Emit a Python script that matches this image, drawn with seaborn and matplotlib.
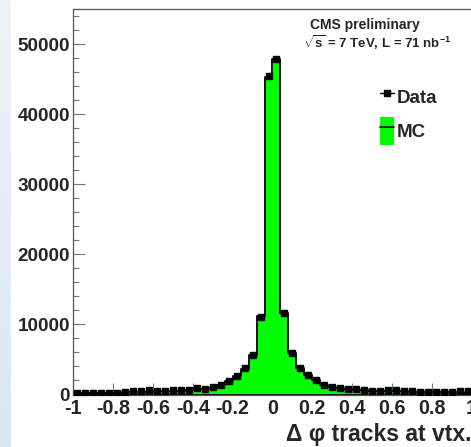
import numpy as np
import pandas as pd
import matplotlib
matplotlib.use("Agg")
import matplotlib.pyplot as plt
from matplotlib.ticker import MultipleLocator, FuncFormatter
from matplotlib.lines import Line2D
from matplotlib.patches import Patch
from matplotlib.colors import LinearSegmentedColormap
import seaborn as sns

# ---- data (50 bins of width 0.04 from -1 to 1) ----
bin_edges = np.linspace(-1.0, 1.0, 51)
bin_centers = 0.5 * (bin_edges[:-1] + bin_edges[1:])

data_counts = [200, 250, 250, 180, 180, 180, 400, 450, 450, 600,
               550, 500, 600, 600, 650, 880, 830, 1020, 1360, 1950,
               2620, 3740, 5640, 11100, 45400,
               47800, 11650, 5930, 3830, 2740, 2100, 1400, 1120, 930, 740,
               740, 650, 560, 560, 650, 600, 510, 510, 400, 310,
               310, 310, 400, 450, 450]

mc_counts = [180, 200, 210, 220, 240, 260, 290, 320, 350, 390,
             430, 470, 520, 570, 630, 720, 820, 980, 1300, 1900,
             2600, 3700, 5600, 11250, 45300,
             47900, 11600, 5900, 3850, 2750, 2080, 1420, 1100, 900, 760,
             680, 620, 570, 530, 500, 470, 440, 410, 380, 350,
             330, 310, 300, 290, 280]

y_ticks = [0, 10000, 20000, 30000, 40000, 50000]
x_ticks = [-1, -0.8, -0.6, -0.4, -0.2, 0, 0.2, 0.4, 0.6, 0.8, 1]

mc_df = pd.DataFrame({'dphi': bin_centers, 'count': mc_counts})

sns.set_style("ticks")
plt.rcParams['font.family'] = ['Liberation Sans', 'DejaVu Sans']
plt.rcParams['font.weight'] = 'bold'
plt.rcParams['axes.unicode_minus'] = False
plt.rcParams['mathtext.fontset'] = 'custom'
plt.rcParams['mathtext.rm'] = 'Liberation Sans'
plt.rcParams['mathtext.bf'] = 'Liberation Sans:bold'

W, H = 471, 447
fig = plt.figure(figsize=(W / 100, H / 100), dpi=100)
fig.patch.set_facecolor('white')

# left slide-background strip
bg = fig.add_axes([0, 0, 11 / W, 1])
grad = np.linspace(0, 1, 256).reshape(-1, 1)
cmap = LinearSegmentedColormap.from_list('bg', ['#eef3fa', '#dbe7f4'])
bg.imshow(grad, aspect='auto', cmap=cmap, origin='upper')
bg.set_axis_off()

ax = fig.add_axes([73.3 / W, 52.5 / H, 398.4 / W, 385.5 / H])

sns.histplot(data=mc_df, x='dphi', weights='count', binwidth=0.04,
             binrange=(-1, 1), element='step', fill=True, color='#00ff00',
             alpha=1, edgecolor='black', linewidth=1.3, ax=ax)

ax.errorbar(bin_centers, data_counts, yerr=np.sqrt(data_counts), fmt='s',
            color='black', ms=4.2, elinewidth=1, capsize=0, zorder=5)

ax.set_xlim(-1, 1)
ax.set_ylim(0, 55000)
ax.set_xlabel('')
ax.set_ylabel('')
ax.set_xticks(x_ticks)
ax.set_yticks(y_ticks)
ax.xaxis.set_minor_locator(MultipleLocator(0.05))
ax.yaxis.set_minor_locator(MultipleLocator(2000))
ax.xaxis.set_major_formatter(FuncFormatter(lambda v, p: ('%g' % round(v, 2))))
ax.yaxis.set_major_formatter(FuncFormatter(lambda v, p: '%d' % v))

for s in ['left', 'bottom', 'top', 'right']:
    ax.spines[s].set_visible(True)
    ax.spines[s].set_color('#555555')
    ax.spines[s].set_linewidth(0.9)

ax.tick_params(axis='both', which='major', direction='in', length=8.6,
               width=0.8, color='#777777')
ax.tick_params(axis='y', which='major', labelsize=13.6, pad=2.2)
ax.tick_params(axis='x', which='major', labelsize=14.2, pad=3.0)
ax.tick_params(axis='both', which='minor', direction='in', length=4.3,
               width=0.8, color='#777777')
for lab in ax.get_xticklabels() + ax.get_yticklabels():
    lab.set_fontweight('bold')

# texts
fig.text(310 / W, 1 - 25 / H, 'CMS preliminary', fontsize=10,
         fontweight='bold', ha='left', va='center')
fig.text(303 / W, 1 - 43 / H, r'$\sqrt{\mathbf{s}}$ = 7 TeV, L = 71 nb$^{\mathbf{-1}}$',
         fontsize=9.5, fontweight='bold', ha='left', va='center')
fig.text(1.0, 1 - 441 / H, 'Δ φ tracks at vtx.', fontsize=16.5,
         fontweight='bold', ha='right', va='baseline')

# legend
h_data = Line2D([], [], color='black', marker='s', ms=4, lw=1)
h_mc = (Patch(facecolor='#00ff00', edgecolor='none'),
        Line2D([], [], color='black', lw=1.2))
leg = fig.legend([h_data, h_mc], ['Data', 'MC'], loc='upper left',
                 bbox_to_anchor=(380 / W, 1 - 83 / H), frameon=False,
                 fontsize=13.5, handlelength=0.75, handleheight=1.9,
                 handletextpad=0.17, labelspacing=0.32, borderpad=0,
                 borderaxespad=0)
for t in leg.get_texts():
    t.set_fontweight('bold')

fig.savefig('out.png', dpi=100)
